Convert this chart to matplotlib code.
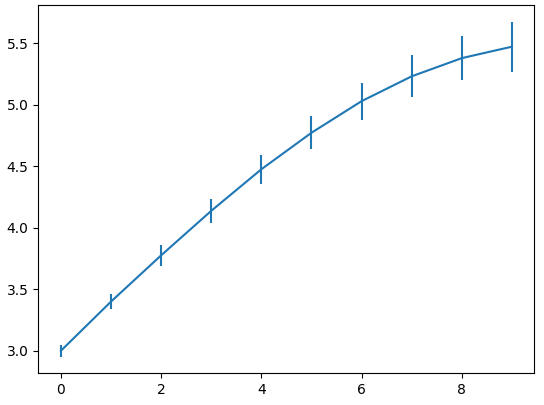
import matplotlib
matplotlib.use("Agg")
import matplotlib.pyplot as plt

x = [0, 1, 2, 3, 4, 5, 6, 7, 8, 9]
y = [3.0, 3.40, 3.776, 4.138, 4.476, 4.773, 5.03, 5.232, 5.38, 5.473]
yerr = [0.047, 0.064, 0.085, 0.096, 0.118, 0.134, 0.15, 0.17, 0.182, 0.203]

fig, ax = plt.subplots(figsize=(5.44, 4.05), dpi=100)
fig.subplots_adjust(left=0.0705, right=0.9825, top=0.9877, bottom=0.0783)
ax.errorbar(x, y, yerr=yerr)
fig.savefig("out.png", dpi=100)
